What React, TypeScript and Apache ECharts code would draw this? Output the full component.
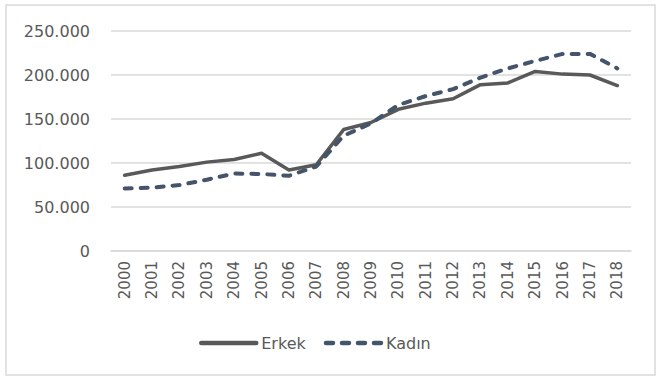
import React, { useEffect, useRef } from "react";
import * as echarts from "echarts";

const years = ["2000","2001","2002","2003","2004","2005","2006","2007","2008","2009","2010","2011","2012","2013","2014","2015","2016","2017","2018"];
const erkek = [86000, 92000, 96000, 101000, 104000, 111000, 92000, 98000, 138000, 146000, 161000, 168000, 173000, 189000, 191000, 204000, 201000, 200000, 188000];
const kadin = [71000, 72000, 75000, 81000, 88000, 87500, 85500, 96000, 131000, 145000, 166000, 176000, 184000, 197000, 207500, 216000, 224000, 224000, 207500];
const yTicks = [0, 50000, 100000, 150000, 200000, 250000];

const fmt = (v: number) => (v === 0 ? "0" : (v / 1000).toFixed(0) + ".000");

export default function App() {
  const ref = useRef<HTMLDivElement>(null);
  useEffect(() => {
    const chart = echarts.init(ref.current!, undefined, { renderer: "svg" });
    chart.setOption({
      animation: false,
      backgroundColor: "#ffffff",
      textStyle: { fontFamily: "DejaVu Sans", color: "#595959" },
      graphic: [
        {
          type: "rect",
          shape: { x: 6, y: 5, width: 649, height: 370 },
          style: { fill: "none", stroke: "#d9d9d9", lineWidth: 1.5 },
          silent: true,
        },
      ],
      grid: { left: 111, right: 34, top: 31, bottom: 130, containLabel: false },
      xAxis: {
        type: "category",
        data: years,
        boundaryGap: true,
        axisLine: { show: true, lineStyle: { color: "#d9d9d9", width: 1.5 } },
        axisTick: { show: false },
        axisLabel: { rotate: 90, color: "#595959", fontSize: 15, fontFamily: "DejaVu Sans", margin: 10 },
      },
      yAxis: {
        type: "value",
        min: yTicks[0],
        max: yTicks[yTicks.length - 1],
        interval: 50000,
        axisLine: { show: false },
        axisTick: { show: false },
        splitLine: { lineStyle: { color: "#d9d9d9", width: 1.5 } },
        axisLabel: { formatter: fmt, color: "#595959", fontSize: 16, fontFamily: "DejaVu Sans", margin: 21 },
      },
      legend: {
        left: 194,
        top: 330,
        itemWidth: 55,
        itemHeight: 16,
        itemGap: 18,
        itemStyle: { opacity: 0 },
        lineStyle: { width: 4.5 },
        textStyle: { color: "#595959", fontSize: 16, fontFamily: "DejaVu Sans" },
        data: ["Erkek", "Kadın"],
      },
      series: [
        {
          name: "Erkek",
          type: "line",
          data: erkek,
          symbol: "none",
          lineStyle: { color: "#595959", width: 3.5, cap: "round", join: "round" },
          itemStyle: { color: "#595959" },
        },
        {
          name: "Kadın",
          type: "line",
          data: kadin,
          symbol: "none",
          lineStyle: { color: "#44546a", width: 4, type: [7, 9], cap: "round", join: "round" },
          itemStyle: { color: "#44546a" },
        },
      ],
    });
    return () => chart.dispose();
  }, []);
  return <div ref={ref} style={{ position: "fixed", left: 0, top: 0, width: 665, height: 381 }} />;
}
